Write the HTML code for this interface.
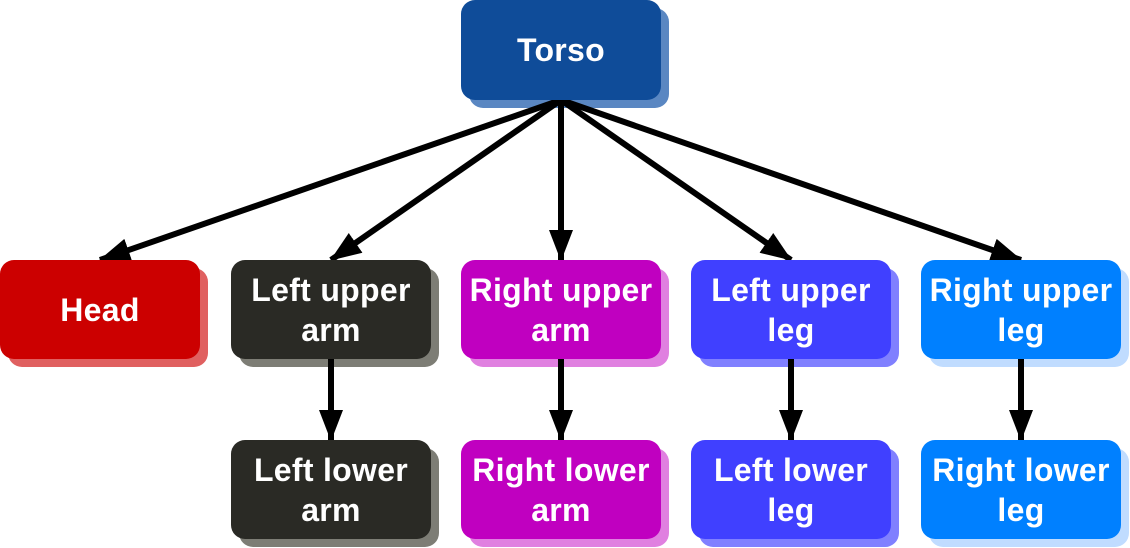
<!DOCTYPE html>
<html><head><style>
body{margin:0;width:1130px;height:548px;background:#fff;position:relative;overflow:hidden;font-family:"Liberation Sans",Arial,sans-serif}
.b{position:absolute;width:200px;height:99px;border-radius:14px;color:#fff;font-weight:bold;font-size:32px;line-height:40px;display:flex;align-items:center;justify-content:center;text-align:center;letter-spacing:0.3px}
</style></head><body>
<svg width="1130" height="548" style="position:absolute;left:0;top:0">
<defs><marker id="a" markerWidth="5.2" markerHeight="4" refX="5" refY="2" orient="auto" markerUnits="strokeWidth"><path d="M0,0 L5.2,2 L0,4 z" fill="#000"/></marker></defs>
<rect x="469" y="8" width="200" height="100" rx="14" fill="#5a87c2"/>
<rect x="8" y="268" width="200" height="99" rx="14" fill="#e06060"/>
<rect x="239" y="268" width="200" height="99" rx="14" fill="#7d7d75"/>
<rect x="469" y="268" width="200" height="99" rx="14" fill="#e080e0"/>
<rect x="699" y="268" width="200" height="99" rx="14" fill="#8080ff"/>
<rect x="929" y="268" width="200" height="99" rx="14" fill="#c0dcff"/>
<rect x="239" y="448" width="200" height="99" rx="14" fill="#7d7d75"/>
<rect x="469" y="448" width="200" height="99" rx="14" fill="#e080e0"/>
<rect x="699" y="448" width="200" height="99" rx="14" fill="#8080ff"/>
<rect x="929" y="448" width="200" height="99" rx="14" fill="#c0dcff"/>
<g stroke="#000" stroke-width="6" marker-end="url(#a)">
<line x1="561" y1="100" x2="100" y2="260"/>
<line x1="561" y1="100" x2="331" y2="260"/>
<line x1="561" y1="100" x2="561" y2="260"/>
<line x1="561" y1="100" x2="791" y2="260"/>
<line x1="561" y1="100" x2="1021" y2="260"/>
<line x1="331" y1="359" x2="331" y2="440"/>
<line x1="561" y1="359" x2="561" y2="440"/>
<line x1="791" y1="359" x2="791" y2="440"/>
<line x1="1021" y1="359" x2="1021" y2="440"/>
</g>
</svg>
<div class="b" style="left:461px;top:0;height:100px;background:#0f4c99">Torso</div>
<div class="b" style="left:0;top:260px;background:#cc0000">Head</div>
<div class="b" style="left:231px;top:260px;background:#2a2a25">Left upper<br>arm</div>
<div class="b" style="left:461px;top:260px;background:#c000c0">Right upper<br>arm</div>
<div class="b" style="left:691px;top:260px;background:#4040ff">Left upper<br>leg</div>
<div class="b" style="left:921px;top:260px;background:#0080ff">Right upper<br>leg</div>
<div class="b" style="left:231px;top:440px;background:#2a2a25">Left lower<br>arm</div>
<div class="b" style="left:461px;top:440px;background:#c000c0">Right lower<br>arm</div>
<div class="b" style="left:691px;top:440px;background:#4040ff">Left lower<br>leg</div>
<div class="b" style="left:921px;top:440px;background:#0080ff">Right lower<br>leg</div>
</body></html>
